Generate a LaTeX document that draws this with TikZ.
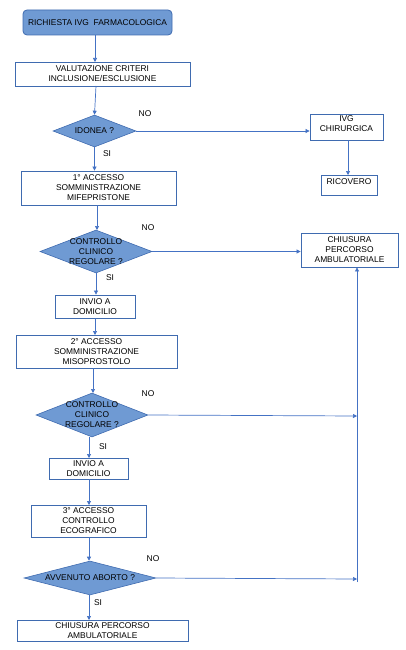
\documentclass[tikz,border=0pt]{standalone}
\usepackage{fontspec}
\setmainfont{Liberation Sans}
\usetikzlibrary{shapes.geometric,arrows.meta}
\definecolor{bfill}{HTML}{6F9AD3}
\definecolor{bline}{HTML}{3F6BB0}
\definecolor{aline}{HTML}{4472C4}
\tikzset{
  txt/.style={font=\fontsize{8.4}{10}\selectfont, align=center, inner sep=0pt, text=black},
  box/.style={draw=bline, line width=0.8pt, fill=white, rectangle, inner sep=0pt, txt},
  startbox/.style={box, fill=bfill, rounded corners=4pt},
  dia/.style={draw=bline, line width=0.6pt, fill=bfill, diamond, inner sep=0pt},
  arr/.style={draw=aline, line width=0.7pt, -{Triangle[width=4pt,length=4pt]}},
  ln/.style={draw=aline, line width=0.7pt},
  lab/.style={font=\fontsize{8.4}{10}\selectfont, inner sep=0pt}
}
\begin{document}
\begin{tikzpicture}[x=1pt,y=-1pt]
\useasboundingbox (0,0) rectangle (405,650);
% boxes
\node[startbox, minimum width=149pt, minimum height=25pt] (top) at (97.5,22.5) {RICHIESTA IVG\ \ FARMACOLOGICA};
\node[box, minimum width=175pt, minimum height=24pt] (val) at (102.5,74) {VALUTAZIONE CRITERI\\INCLUSIONE/ESCLUSIONE};
\node[dia, minimum width=83pt, minimum height=32pt] (d1) at (94.5,131) {};
\node[txt] (d1t) at (d1) {IDONEA ?};
\node[box, minimum width=73pt, minimum height=26pt] (ivgc) at (346.5,127) {};
\node[txt] (ivgct) at (346.5,124) {IVG\\CHIRURGICA};
\node[box, minimum width=56pt, minimum height=20pt] (ric) at (349,185) {};
\node[txt] (rict) at (349,181.5) {RICOVERO};
\node[box, minimum width=155pt, minimum height=34pt] (acc1) at (98.5,188) {1° ACCESSO\\SOMMINISTRAZIONE\\MIFEPRISTONE};
\node[dia, minimum width=112pt, minimum height=43pt] (d2) at (96,251.5) {};
\node[txt] (d2t) at (d2) {CONTROLLO\\CLINICO\\REGOLARE ?};
\node[box, minimum width=97pt, minimum height=34pt] (chius) at (349.5,250) {CHIUSURA\\PERCORSO\\AMBULATORIALE};
\node[box, minimum width=80pt, minimum height=23pt] (inv1) at (95,306.5) {INVIO A\\DOMICILIO};
\node[box, minimum width=161pt, minimum height=33pt] (acc2) at (96.5,351.5) {2° ACCESSO\\SOMMINISTRAZIONE\\MISOPROSTOLO};
\node[dia, minimum width=112pt, minimum height=44pt] (d3) at (92,415) {};
\node[txt] (d3t) at (d3) {CONTROLLO\\CLINICO\\REGOLARE ?};
\node[box, minimum width=79pt, minimum height=21pt] (inv2) at (88.5,468.5) {INVIO A\\DOMICILIO};
\node[box, minimum width=115pt, minimum height=32pt] (acc3) at (88.5,521) {3° ACCESSO\\CONTROLLO\\ECOGRAFICO};
\node[dia, minimum width=132pt, minimum height=34pt] (d4) at (90,578) {};
\node[txt] (d4t) at (d4) {AVVENUTO ABORTO ?};
\node[box, minimum width=171pt, minimum height=21pt] (fin) at (102.5,630.5) {CHIUSURA PERCORSO\\AMBULATORIALE};
% labels
\node[lab] (no1) at (145,114) {NO};
\node[lab] (si1) at (107,154) {SI};
\node[lab] (no2) at (148,228) {NO};
\node[lab] (si2) at (110,278) {SI};
\node[lab] (no3) at (148,394) {NO};
\node[lab] (si3) at (103,447) {SI};
\node[lab] (no4) at (153,559) {NO};
\node[lab] (si4) at (98,603) {SI};
% junctions
\coordinate (j3) at (357,416);
\coordinate (j4) at (357,579);
\coordinate (jb) at (357,582);
% connectors
\draw[arr] (top.south -| 95,0) ++(0,0) -- (95,62);
\draw[arr] (96,86) -- (d1.north);
\draw[arr] (d1.east) -- (d1.east -| ivgc.west);
\draw[arr] (348,140) -- (348,175);
\draw[arr] (d1.south) -- (d1.south |- acc1.north);
\draw[arr] (97,205) -- (97,230);
\draw[arr] (d2.east) -- (d2.east -| chius.west);
\draw[arr] (d2.south) -- (d2.south |- inv1.north);
\draw[arr] (95,318) -- (95,335);
\draw[arr] (93,368) -- (93,393);
\draw[arr] (d3.east) -- (j3);
\draw[arr] (89,437) -- (89,458);
\draw[arr] (89,479) -- (89,505);
\draw[arr] (89,537) -- (d4.north -| 89,0);
\draw[arr] (d4.east) -- (j4);
\draw[arr] (89,595) -- (89,620);
\draw[arr] (jb) -- (jb |- chius.south);
\end{tikzpicture}
\end{document}
